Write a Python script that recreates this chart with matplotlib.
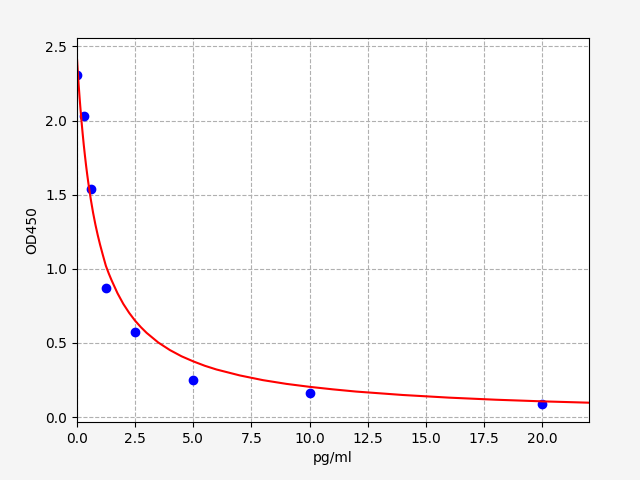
import matplotlib
matplotlib.use("Agg")
import matplotlib.pyplot as plt

# standard points
conc = [0, 0.3125, 0.625, 1.25, 2.5, 5, 10, 20]
od = [2.31, 2.03, 1.54, 0.87, 0.577, 0.247, 0.164, 0.085]

# fitted curve
curve_x = [0, 0.025, 0.05, 0.075, 0.1, 0.125, 0.15, 0.2, 0.25, 0.3, 0.35, 0.4, 0.45, 0.5,
           0.6, 0.7, 0.8, 0.9, 1.0, 1.125, 1.25, 1.375, 1.5, 1.75, 2.0, 2.25,
           2.5, 2.75, 3.0, 3.5, 4.0, 4.5, 5, 5.5, 6, 7, 8, 9, 10, 11, 12, 14, 16, 18, 20, 22]
curve_y = [2.44, 2.375, 2.31, 2.25, 2.198, 2.145, 2.095, 2.0, 1.915, 1.835, 1.763, 1.695,
           1.633, 1.575, 1.47, 1.378, 1.298, 1.227, 1.163, 1.09, 1.02, 0.968, 0.921,
           0.835, 0.763, 0.703, 0.651, 0.607, 0.568, 0.503, 0.452, 0.41, 0.376, 0.346,
           0.321, 0.281, 0.249, 0.224, 0.204, 0.187, 0.172, 0.149, 0.131, 0.117, 0.106, 0.097]

fig = plt.figure(figsize=(6.4, 4.8), dpi=100, facecolor='#f5f5f5')
plt.subplots_adjust(left=0.12, right=0.92, top=0.921, bottom=0.121)
plt.plot(conc, od, 'bo')
plt.plot(curve_x, curve_y, 'r-')
plt.xlim(0, 22)
plt.grid(linestyle='--')
plt.xlabel('pg/ml')
plt.ylabel('OD450')
plt.savefig('out.png', facecolor=fig.get_facecolor())
